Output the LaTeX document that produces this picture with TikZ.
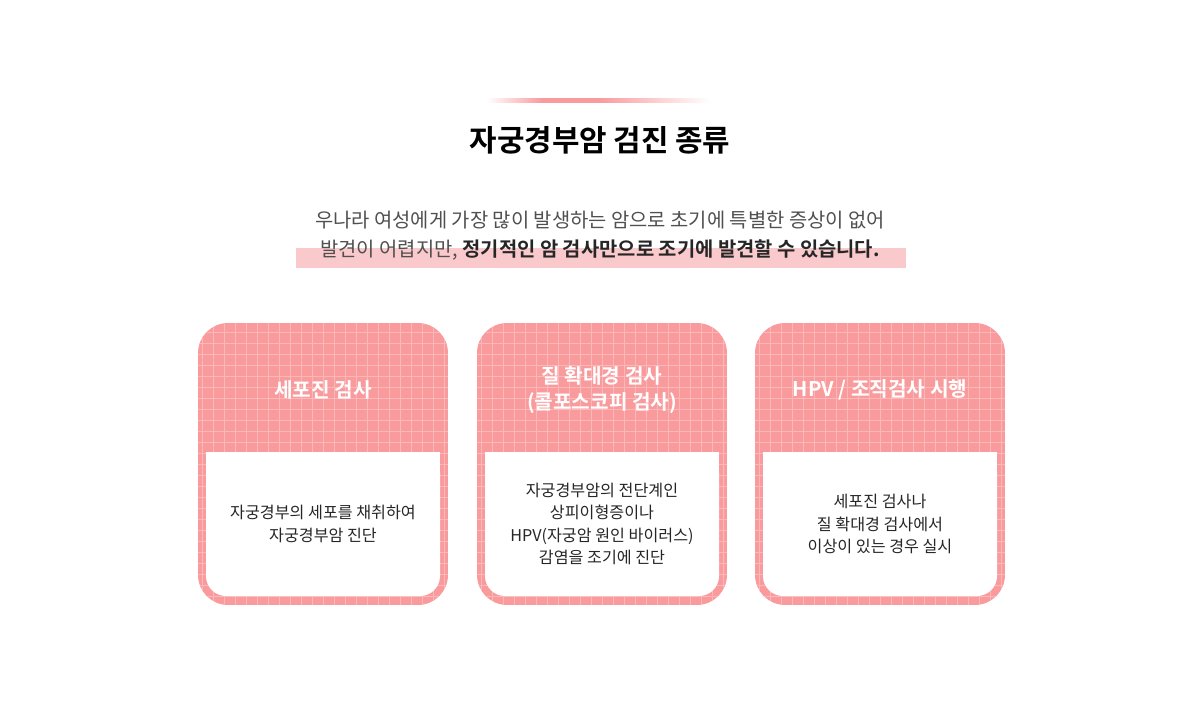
\documentclass[tikz,border=0pt]{standalone}
\usepackage{fontspec}
\setmainfont{Noto Sans CJK KR}[BoldFont={Noto Sans CJK KR Bold}]
\usetikzlibrary{positioning}
\definecolor{cardpink}{HTML}{F99A9D}
\definecolor{gridpink}{HTML}{FBB8B9}
\definecolor{markpink}{HTML}{FAC9CB}
\definecolor{txtgray}{HTML}{505050}

\tikzset{
  card/.style={rounded corners=0.6cm, fill=cardpink, minimum width=5cm, minimum height=5.64cm,
    path picture={\draw[gridpink, line width=0.5pt, step=0.22cm]
      (path picture bounding box.south west) grid (path picture bounding box.north east);}},
  head/.style={text=white, font=\bfseries\fontsize{11.5}{14.5}\selectfont, align=center},
  body/.style={text=black!85, font=\fontsize{9.2}{12.6}\selectfont, align=center},
}

\begin{document}
\begin{tikzpicture}[x=0.02cm, y=-0.02cm]
        \useasboundingbox (0,0) rectangle (1200,706);
        % title bar
        \shade[left color=white, right color=cardpink, middle color=cardpink] (487,99) rectangle (598,103);
        \shade[left color=cardpink, right color=white] (598,99) rectangle (710,103);
        \node[font=\bfseries\fontsize{17}{20}\selectfont] (title) at (600,140) {자궁경부암 검진 종류};
        % intro text
        \fill[markpink] (296,248) rectangle (906,268);
        \node[text=txtgray, font=\fontsize{11.3}{14}\selectfont] (line1) at (600,220)
          {우나라 여성에게 가장 많이 발생하는 암으로 초기에 특별한 증상이 없어};
        \node[text=txtgray, font=\fontsize{11.3}{14}\selectfont] (line2) at (600,250)
          {발견이 어렵지만, \textbf{\color{black!85}정기적인 암 검사만으로 조기에 발견할 수 있습니다.}};
        % cards
        \foreach \cx/\nm in {323/a, 602/b, 880/c} {
          \node[card] (card\nm) at (\cx,464) {};
          \fill[white, rounded corners=0.4cm] (\cx-117,452) rectangle (\cx+117,596);
          \fill[white] (\cx-117,452) rectangle (\cx+117,500);
        }
        \node[head] (heada) at (323,390) {세포진 검사};
        \node[head] (headb) at (602,390) {질 확대경 검사\\(콜포스코피 검사)};
        \node[head] (headc) at (880,390) {HPV / 조직검사 시행};
        \node[body] (bodya) at (323,524) {자궁경부의 세포를 채취하여\\자궁경부암 진단};
        \node[body] (bodyb) at (602,524) {자궁경부암의 전단계인\\상피이형증이나\\HPV(자궁암 원인 바이러스)\\감염을 조기에 진단};
        \node[body] (bodyc) at (880,524) {세포진 검사나\\질 확대경 검사에서\\이상이 있는 경우 실시};
\end{tikzpicture}
\end{document}
